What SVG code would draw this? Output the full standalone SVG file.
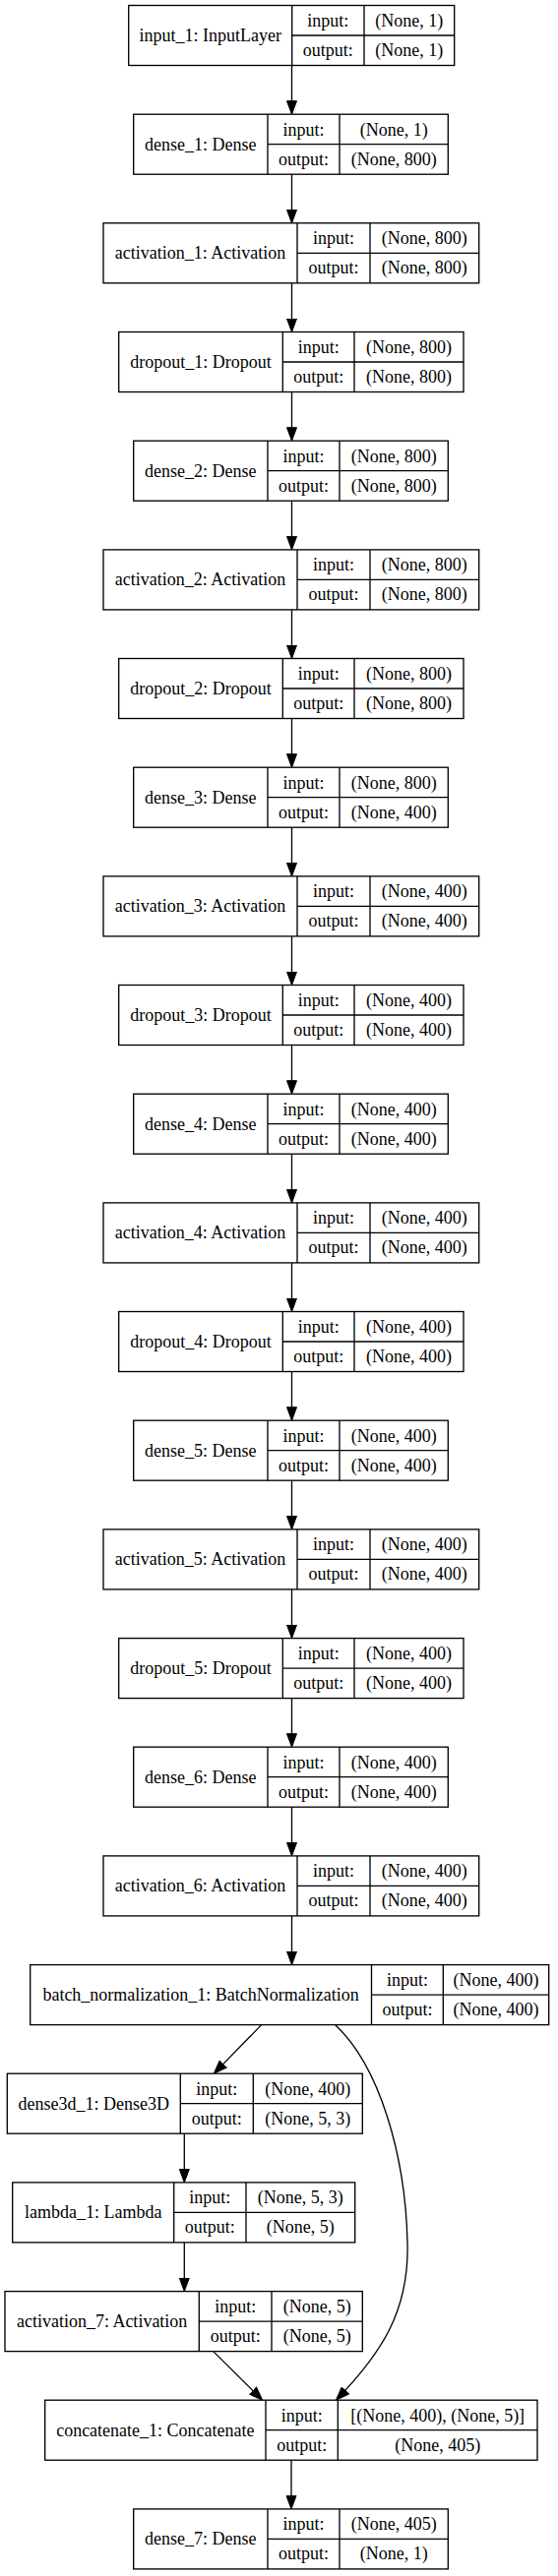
<svg xmlns="http://www.w3.org/2000/svg" width="567" height="2619" viewBox="0 0 567 2619">
<style>
.bx{fill:#fff;stroke:#000;stroke-width:1.33}
.dv{stroke:#000;stroke-width:1.33}
text{font-family:"Liberation Serif","Times New Roman",serif;font-size:18px;text-anchor:middle;fill:#000}
.e{fill:none;stroke:#000;stroke-width:1.33;marker-end:url(#ah)}
</style>
<defs>
<marker id="ah" markerUnits="userSpaceOnUse" markerWidth="15" markerHeight="11" viewBox="0 0 15 11" refX="12.5" refY="5.5" orient="auto"><path d="M0.5,0.5L14,5.5L0.5,10.5z" fill="#000" stroke="#000" stroke-width="1"/></marker>
</defs>
<rect width="567" height="2619" fill="#fff"/>
<g id="connectors">
<path class="e" d="M296.5 66.5V114.7"/>
<path class="e" d="M296.5 177.2V225.3"/>
<path class="e" d="M296.5 287.8V336"/>
<path class="e" d="M296.5 398.5V446.7"/>
<path class="e" d="M296.5 509.2V557.4"/>
<path class="e" d="M296.5 619.9V668"/>
<path class="e" d="M296.5 730.5V778.7"/>
<path class="e" d="M296.5 841.2V889.4"/>
<path class="e" d="M296.5 951.9V1000"/>
<path class="e" d="M296.5 1062.5V1110.7"/>
<path class="e" d="M296.5 1173.2V1221.4"/>
<path class="e" d="M296.5 1283.9V1332"/>
<path class="e" d="M296.5 1394.5V1442.7"/>
<path class="e" d="M296.5 1505.2V1553.4"/>
<path class="e" d="M296.5 1615.9V1664.1"/>
<path class="e" d="M296.5 1726.6V1774.7"/>
<path class="e" d="M296.5 1837.2V1885.4"/>
<path class="e" d="M296.5 1947.9V1996.1"/>
<path class="e" d="M265.7 2058.6L218.35 2107.1"/>
<path class="e" d="M187.3 2169.2V2217.4"/>
<path class="e" d="M187.3 2279.9V2328.1"/>
<path class="e" d="M216.7 2390.6L265.6 2439.1"/>
<path class="e" d="M340.5 2058.6C385 2100 412 2190 414 2280C416 2350 387 2393 342.5 2439.1"/>
<path class="e" d="M296 2501.2V2549.4"/>
</g>
<g id="input_1"><rect class="bx" x="130.7" y="5.5" width="331" height="61"/><path class="dv" d="M296.7 5.5V66.5M370 5.5V66.5M296.7 36H461.7"/><text x="213.7" y="42">input_1: InputLayer</text><text x="333.35" y="27">input:</text><text x="333.35" y="57">output:</text><text x="415.85" y="27">(None, 1)</text><text x="415.85" y="57">(None, 1)</text></g>
<g id="dense_1"><rect class="bx" x="135.7" y="116.2" width="319.6" height="61"/><path class="dv" d="M272 116.2V177.2M345 116.2V177.2M272 146.7H455.3"/><text x="203.85" y="152.7">dense_1: Dense</text><text x="308.5" y="137.7">input:</text><text x="308.5" y="167.7">output:</text><text x="400.15" y="137.7">(None, 1)</text><text x="400.15" y="167.7">(None, 800)</text></g>
<g id="activation_1"><rect class="bx" x="105" y="226.8" width="381.7" height="61"/><path class="dv" d="M302 226.8V287.8M376 226.8V287.8M302 257.3H486.7"/><text x="203.5" y="263.3">activation_1: Activation</text><text x="339" y="248.3">input:</text><text x="339" y="278.3">output:</text><text x="431.35" y="248.3">(None, 800)</text><text x="431.35" y="278.3">(None, 800)</text></g>
<g id="dropout_1"><rect class="bx" x="120.7" y="337.5" width="350.3" height="61"/><path class="dv" d="M287.3 337.5V398.5M360 337.5V398.5M287.3 368H471"/><text x="204" y="374">dropout_1: Dropout</text><text x="323.65" y="359">input:</text><text x="323.65" y="389">output:</text><text x="415.5" y="359">(None, 800)</text><text x="415.5" y="389">(None, 800)</text></g>
<g id="dense_2"><rect class="bx" x="135.7" y="448.2" width="319.6" height="61"/><path class="dv" d="M272 448.2V509.2M345 448.2V509.2M272 478.7H455.3"/><text x="203.85" y="484.7">dense_2: Dense</text><text x="308.5" y="469.7">input:</text><text x="308.5" y="499.7">output:</text><text x="400.15" y="469.7">(None, 800)</text><text x="400.15" y="499.7">(None, 800)</text></g>
<g id="activation_2"><rect class="bx" x="105" y="558.9" width="381.7" height="61"/><path class="dv" d="M302 558.9V619.9M376 558.9V619.9M302 589.4H486.7"/><text x="203.5" y="595.4">activation_2: Activation</text><text x="339" y="580.4">input:</text><text x="339" y="610.4">output:</text><text x="431.35" y="580.4">(None, 800)</text><text x="431.35" y="610.4">(None, 800)</text></g>
<g id="dropout_2"><rect class="bx" x="120.7" y="669.5" width="350.3" height="61"/><path class="dv" d="M287.3 669.5V730.5M360 669.5V730.5M287.3 700H471"/><text x="204" y="706">dropout_2: Dropout</text><text x="323.65" y="691">input:</text><text x="323.65" y="721">output:</text><text x="415.5" y="691">(None, 800)</text><text x="415.5" y="721">(None, 800)</text></g>
<g id="dense_3"><rect class="bx" x="135.7" y="780.2" width="319.6" height="61"/><path class="dv" d="M272 780.2V841.2M345 780.2V841.2M272 810.7H455.3"/><text x="203.85" y="816.7">dense_3: Dense</text><text x="308.5" y="801.7">input:</text><text x="308.5" y="831.7">output:</text><text x="400.15" y="801.7">(None, 800)</text><text x="400.15" y="831.7">(None, 400)</text></g>
<g id="activation_3"><rect class="bx" x="105" y="890.9" width="381.7" height="61"/><path class="dv" d="M302 890.9V951.9M376 890.9V951.9M302 921.4H486.7"/><text x="203.5" y="927.4">activation_3: Activation</text><text x="339" y="912.4">input:</text><text x="339" y="942.4">output:</text><text x="431.35" y="912.4">(None, 400)</text><text x="431.35" y="942.4">(None, 400)</text></g>
<g id="dropout_3"><rect class="bx" x="120.7" y="1001.5" width="350.3" height="61"/><path class="dv" d="M287.3 1001.5V1062.5M360 1001.5V1062.5M287.3 1032H471"/><text x="204" y="1038">dropout_3: Dropout</text><text x="323.65" y="1023">input:</text><text x="323.65" y="1053">output:</text><text x="415.5" y="1023">(None, 400)</text><text x="415.5" y="1053">(None, 400)</text></g>
<g id="dense_4"><rect class="bx" x="135.7" y="1112.2" width="319.6" height="61"/><path class="dv" d="M272 1112.2V1173.2M345 1112.2V1173.2M272 1142.7H455.3"/><text x="203.85" y="1148.7">dense_4: Dense</text><text x="308.5" y="1133.7">input:</text><text x="308.5" y="1163.7">output:</text><text x="400.15" y="1133.7">(None, 400)</text><text x="400.15" y="1163.7">(None, 400)</text></g>
<g id="activation_4"><rect class="bx" x="105" y="1222.9" width="381.7" height="61"/><path class="dv" d="M302 1222.9V1283.9M376 1222.9V1283.9M302 1253.4H486.7"/><text x="203.5" y="1259.4">activation_4: Activation</text><text x="339" y="1244.4">input:</text><text x="339" y="1274.4">output:</text><text x="431.35" y="1244.4">(None, 400)</text><text x="431.35" y="1274.4">(None, 400)</text></g>
<g id="dropout_4"><rect class="bx" x="120.7" y="1333.5" width="350.3" height="61"/><path class="dv" d="M287.3 1333.5V1394.5M360 1333.5V1394.5M287.3 1364H471"/><text x="204" y="1370">dropout_4: Dropout</text><text x="323.65" y="1355">input:</text><text x="323.65" y="1385">output:</text><text x="415.5" y="1355">(None, 400)</text><text x="415.5" y="1385">(None, 400)</text></g>
<g id="dense_5"><rect class="bx" x="135.7" y="1444.2" width="319.6" height="61"/><path class="dv" d="M272 1444.2V1505.2M345 1444.2V1505.2M272 1474.7H455.3"/><text x="203.85" y="1480.7">dense_5: Dense</text><text x="308.5" y="1465.7">input:</text><text x="308.5" y="1495.7">output:</text><text x="400.15" y="1465.7">(None, 400)</text><text x="400.15" y="1495.7">(None, 400)</text></g>
<g id="activation_5"><rect class="bx" x="105" y="1554.9" width="381.7" height="61"/><path class="dv" d="M302 1554.9V1615.9M376 1554.9V1615.9M302 1585.4H486.7"/><text x="203.5" y="1591.4">activation_5: Activation</text><text x="339" y="1576.4">input:</text><text x="339" y="1606.4">output:</text><text x="431.35" y="1576.4">(None, 400)</text><text x="431.35" y="1606.4">(None, 400)</text></g>
<g id="dropout_5"><rect class="bx" x="120.7" y="1665.6" width="350.3" height="61"/><path class="dv" d="M287.3 1665.6V1726.6M360 1665.6V1726.6M287.3 1696.1H471"/><text x="204" y="1702.1">dropout_5: Dropout</text><text x="323.65" y="1687.1">input:</text><text x="323.65" y="1717.1">output:</text><text x="415.5" y="1687.1">(None, 400)</text><text x="415.5" y="1717.1">(None, 400)</text></g>
<g id="dense_6"><rect class="bx" x="135.7" y="1776.2" width="319.6" height="61"/><path class="dv" d="M272 1776.2V1837.2M345 1776.2V1837.2M272 1806.7H455.3"/><text x="203.85" y="1812.7">dense_6: Dense</text><text x="308.5" y="1797.7">input:</text><text x="308.5" y="1827.7">output:</text><text x="400.15" y="1797.7">(None, 400)</text><text x="400.15" y="1827.7">(None, 400)</text></g>
<g id="activation_6"><rect class="bx" x="105" y="1886.9" width="381.7" height="61"/><path class="dv" d="M302 1886.9V1947.9M376 1886.9V1947.9M302 1917.4H486.7"/><text x="203.5" y="1923.4">activation_6: Activation</text><text x="339" y="1908.4">input:</text><text x="339" y="1938.4">output:</text><text x="431.35" y="1908.4">(None, 400)</text><text x="431.35" y="1938.4">(None, 400)</text></g>
<g id="batch_normalization_1"><rect class="bx" x="30.7" y="1997.6" width="527" height="61"/><path class="dv" d="M377.5 1997.6V2058.6M450.3 1997.6V2058.6M377.5 2028.1H557.7"/><text x="204.1" y="2034.1">batch_normalization_1: BatchNormalization</text><text x="413.9" y="2019.1">input:</text><text x="413.9" y="2049.1">output:</text><text x="504" y="2019.1">(None, 400)</text><text x="504" y="2049.1">(None, 400)</text></g>
<g id="dense3d_1"><rect class="bx" x="7.3" y="2108.2" width="361" height="61"/><path class="dv" d="M183.3 2108.2V2169.2M257.3 2108.2V2169.2M183.3 2138.7H368.3"/><text x="95.3" y="2144.7">dense3d_1: Dense3D</text><text x="220.3" y="2129.7">input:</text><text x="220.3" y="2159.7">output:</text><text x="312.8" y="2129.7">(None, 400)</text><text x="312.8" y="2159.7">(None, 5, 3)</text></g>
<g id="lambda_1"><rect class="bx" x="12.7" y="2218.9" width="348" height="61"/><path class="dv" d="M176.7 2218.9V2279.9M250 2218.9V2279.9M176.7 2249.4H360.7"/><text x="94.7" y="2255.4">lambda_1: Lambda</text><text x="213.35" y="2240.4">input:</text><text x="213.35" y="2270.4">output:</text><text x="305.35" y="2240.4">(None, 5, 3)</text><text x="305.35" y="2270.4">(None, 5)</text></g>
<g id="activation_7"><rect class="bx" x="5" y="2329.6" width="363.3" height="61"/><path class="dv" d="M202.3 2329.6V2390.6M276 2329.6V2390.6M202.3 2360.1H368.3"/><text x="103.65" y="2366.1">activation_7: Activation</text><text x="239.15" y="2351.1">input:</text><text x="239.15" y="2381.1">output:</text><text x="322.15" y="2351.1">(None, 5)</text><text x="322.15" y="2381.1">(None, 5)</text></g>
<g id="concatenate_1"><rect class="bx" x="45.7" y="2440.2" width="500.3" height="61"/><path class="dv" d="M270 2440.2V2501.2M343.3 2440.2V2501.2M270 2470.7H546"/><text x="157.85" y="2476.7">concatenate_1: Concatenate</text><text x="306.65" y="2461.7">input:</text><text x="306.65" y="2491.7">output:</text><text x="444.65" y="2461.7">[(None, 400), (None, 5)]</text><text x="444.65" y="2491.7">(None, 405)</text></g>
<g id="dense_7"><rect class="bx" x="135.7" y="2550.9" width="319.6" height="61"/><path class="dv" d="M272 2550.9V2611.9M345 2550.9V2611.9M272 2581.4H455.3"/><text x="203.85" y="2587.4">dense_7: Dense</text><text x="308.5" y="2572.4">input:</text><text x="308.5" y="2602.4">output:</text><text x="400.15" y="2572.4">(None, 405)</text><text x="400.15" y="2602.4">(None, 1)</text></g>
</svg>
